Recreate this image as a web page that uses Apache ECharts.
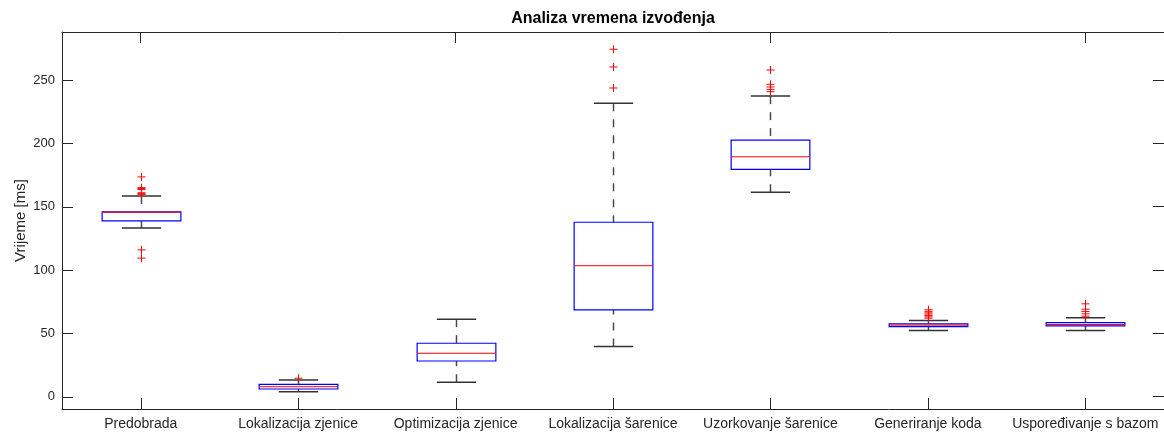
<!DOCTYPE html>
<html><head><meta charset="utf-8">
<script src="https://cdn.jsdelivr.net/npm/echarts@6/dist/echarts.min.js"></script>
<style>html,body{margin:0;padding:0;background:#fff}#c{width:1164px;height:434px}</style>
</head><body><div id="c"></div>
<script>
const categories = ['Predobrada','Lokalizacija zjenice','Optimizacija zjenice','Lokalizacija šarenice','Uzorkovanje šarenice','Generiranje koda','Uspoređivanje s bazom'];
const whiskerLow  = [133.2, 4.0, 11.4, 39.6, 161.4, 52.2, 52.2];
const q1          = [138.8, 6.1, 28.2, 68.6, 179.4, 55.4, 55.9];
const median      = [145.6, 7.9, 34.3, 103.4, 189.4, 56.5, 57.0];
const q3          = [145.9, 9.8, 42.2, 137.7, 202.5, 57.5, 58.5];
const whiskerHigh = [158.5, 13.2, 61.2, 231.6, 237.3, 60.1, 62.3];
const outliers = [
  [173.5, 165.0, 164.3, 163.5, 161.0, 160.3, 159.5, 115.9, 109.4],
  [14.6],
  [],
  [274.3, 260.3, 243.7],
  [257.9, 246.6, 244.5, 242.6, 240.8],
  [68.6, 67.4, 66.2, 65.2, 64.0, 63.0, 62.0],
  [73.3, 69.1, 67.2, 65.4, 63.6]
];
const yTicks = [0, 50, 100, 150, 200, 250];
const titleText = 'Analiza vremena izvođenja';
const yName = 'Vrijeme [ms]';

const FONT = "'Liberation Sans', Arial, Helvetica, sans-serif";
const AX = '#262626';
const Y_MIN = -9.7, Y_MAX = 287.9;
const TICK_LEN = 11;

const boxData = categories.map((c, i) => [i, whiskerLow[i], q1[i], median[i], q3[i], whiskerHigh[i]]);
const outData = [];
outliers.forEach((arr, i) => arr.forEach(v => outData.push([i, v])));
const xTickData = categories.map((c, i) => [i, Y_MIN]);
const yTickData = yTicks.map(v => [0, v]);

function renderBox(params, api) {
  const i = api.value(0);
  const band = api.size([1, 0])[0];
  const hw = band * 0.25, cw = band * 0.125;
  const pLow = api.coord([i, api.value(1)]);
  const pQ1 = api.coord([i, api.value(2)]);
  const pMed = api.coord([i, api.value(3)]);
  const pQ3 = api.coord([i, api.value(4)]);
  const pHigh = api.coord([i, api.value(5)]);
  const x = Math.round(pLow[0]) + 0.5;
  const wStyle = { stroke: '#4a4a4a', lineWidth: 1.5, lineDash: [8, 8], fill: null };
  const cStyle = { stroke: '#333333', lineWidth: 1.5, fill: null };
  return { type: 'group', children: [
    { type: 'line', shape: { x1: x, y1: pHigh[1], x2: x, y2: pQ3[1] }, style: wStyle },
    { type: 'line', shape: { x1: x, y1: pLow[1], x2: x, y2: pQ1[1] }, style: wStyle },
    { type: 'line', shape: { x1: x - cw, y1: pHigh[1], x2: x + cw, y2: pHigh[1] }, style: cStyle },
    { type: 'line', shape: { x1: x - cw, y1: pLow[1], x2: x + cw, y2: pLow[1] }, style: cStyle },
    { type: 'rect', shape: { x: x - hw, y: pQ3[1], width: 2 * hw, height: pQ1[1] - pQ3[1] }, style: { fill: null, stroke: '#0000ff', lineWidth: 1.2 } },
    { type: 'line', shape: { x1: x - hw, y1: pMed[1], x2: x + hw, y2: pMed[1] }, style: { stroke: '#ff0000', lineWidth: 1, fill: null } }
  ]};
}

function renderPlus(params, api) {
  const p = api.coord([api.value(0), api.value(1)]);
  const s = 4;
  const x = Math.round(p[0]) + 0.5;
  const st = { stroke: '#ff0000', lineWidth: 1, fill: null };
  return { type: 'group', children: [
    { type: 'line', shape: { x1: x - s, y1: p[1], x2: x + s, y2: p[1] }, style: st },
    { type: 'line', shape: { x1: x, y1: p[1] - s, x2: x, y2: p[1] + s }, style: st }
  ]};
}

function renderXTick(params, api) {
  const cs = params.coordSys;
  const p = api.coord([api.value(0), api.value(1)]);
  const x = Math.round(p[0]) + 0.5;
  const yb = cs.y + cs.height;
  return { type: 'line', shape: { x1: x, y1: yb, x2: x, y2: yb - TICK_LEN }, style: { stroke: AX, lineWidth: 1, fill: null } };
}

function renderYTick(params, api) {
  const cs = params.coordSys;
  const p = api.coord([api.value(0), api.value(1)]);
  const y = Math.round(p[1]) + 0.5;
  return { type: 'line', shape: { x1: cs.x, y1: y, x2: cs.x + TICK_LEN, y2: y }, style: { stroke: AX, lineWidth: 1, fill: null } };
}

function xAxisOpt(pos, showLabels, showTicks) {
  return { type: 'category', data: categories, position: pos,
    axisLine: { show: true, onZero: false, lineStyle: { color: AX, width: 1 } },
    axisTick: { show: showTicks, inside: true, length: TICK_LEN, alignWithLabel: true, lineStyle: { color: AX } },
    axisLabel: showLabels ? { show: true, color: AX, fontSize: 14, margin: 8, interval: 0, fontFamily: FONT } : { show: false },
    splitLine: { show: false } };
}
function yAxisOpt(pos, showLabels, showTicks) {
  const o = { type: 'value', min: Y_MIN, max: Y_MAX, position: pos,
    axisLine: { show: true, onZero: false, lineStyle: { color: AX, width: 1 } },
    axisTick: { show: showTicks, inside: true, length: TICK_LEN, customValues: yTicks, lineStyle: { color: AX } },
    axisLabel: showLabels ? { show: true, color: AX, fontSize: 13, margin: 7, customValues: yTicks, fontFamily: FONT } : { show: false },
    splitLine: { show: false } };
  if (showLabels) {
    o.name = yName; o.nameLocation = 'middle'; o.nameGap = 34; o.nameMoveOverlap = false;
    o.nameTextStyle = { color: AX, fontSize: 15, fontFamily: FONT };
  }
  return o;
}

const chart = echarts.init(document.getElementById('c'), null, { renderer: 'canvas' });
chart.setOption({
  animation: false,
  backgroundColor: '#ffffff',
  title: {
    text: titleText, left: 613, top: 11, textAlign: 'center', padding: 0,
    textStyle: { fontFamily: FONT, fontSize: 16, fontWeight: 'bold', color: '#000' }
  },
  grid: { left: 62, right: 0, top: 32, bottom: 25 },
  xAxis: [xAxisOpt('bottom', true, false), xAxisOpt('top', false, true)],
  yAxis: [yAxisOpt('left', true, false), yAxisOpt('right', false, true)],
  series: [
    { type: 'custom', name: 'xTicks', xAxisIndex: 0, yAxisIndex: 0, data: xTickData,
      renderItem: renderXTick, encode: { x: 0, y: 1 }, silent: true },
    { type: 'custom', name: 'yTicks', xAxisIndex: 0, yAxisIndex: 0, data: yTickData,
      renderItem: renderYTick, encode: { x: 0, y: 1 }, silent: true },
    { type: 'custom', name: 'box', xAxisIndex: 0, yAxisIndex: 0, data: boxData,
      renderItem: renderBox, encode: { x: 0, y: [1, 2, 3, 4, 5] }, silent: true },
    { type: 'custom', name: 'outliers', xAxisIndex: 0, yAxisIndex: 0, data: outData,
      renderItem: renderPlus, encode: { x: 0, y: 1 }, silent: true }
  ]
});
</script>
</body></html>
